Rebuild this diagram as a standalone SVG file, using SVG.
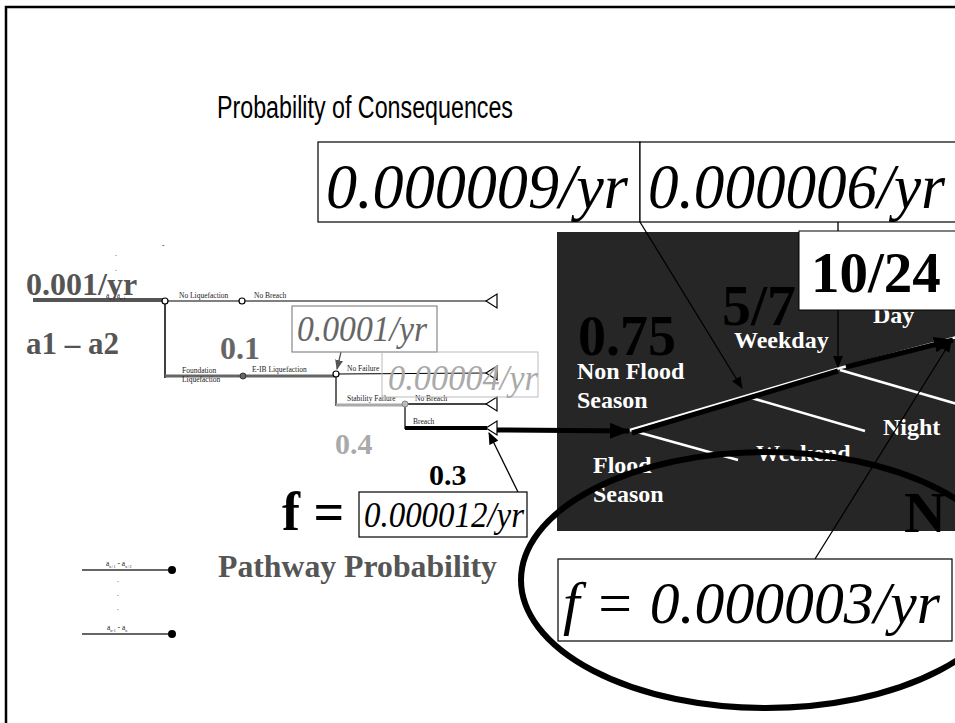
<svg xmlns="http://www.w3.org/2000/svg" width="955" height="723" viewBox="0 0 955 723">
<style>
.sf{font-family:"Liberation Serif","Times New Roman",serif}
.b{font-family:"Liberation Serif","Times New Roman",serif;font-weight:bold}
.it{font-family:"Liberation Serif","Times New Roman",serif;font-style:italic}
.tiny{font-family:"Liberation Serif","Times New Roman",serif;font-size:7.5px;fill:#222}
.wl{font-family:"Liberation Serif","Times New Roman",serif;font-weight:bold;font-size:24px;fill:#fff}
.box{fill:#fff;stroke:#000;stroke-width:1.2}
.node{fill:#fff;stroke:#000;stroke-width:1.2}
.tri{fill:#fff;stroke:#000;stroke-width:1.2}
.thin{stroke:#000;stroke-width:1.3;fill:none}
.wline{stroke:#fff;stroke-width:2.5;fill:none}
</style>
<defs>
<marker id="ah" markerUnits="userSpaceOnUse" markerWidth="12" markerHeight="10" refX="11" refY="5" orient="auto">
<path d="M0,0 L12,5 L0,10 Z" fill="#000"/>
</marker>
<marker id="ahg" markerUnits="userSpaceOnUse" markerWidth="10" markerHeight="8" refX="9" refY="4" orient="auto">
<path d="M0,0 L10,4 L0,8 Z" fill="#555"/>
</marker>
<marker id="ahb" markerUnits="userSpaceOnUse" markerWidth="20" markerHeight="16" refX="19" refY="8" orient="auto">
<path d="M0,0 L20,8 L0,16 Z" fill="#000"/>
</marker>
</defs>
<rect width="955" height="723" fill="#fff"/>
<path d="M6,723 L6,7 L955,7" fill="none" stroke="#000" stroke-width="2.5"/>

<g id="title">
<text x="217" y="118" font-family="Liberation Sans, Arial, sans-serif" font-size="31" textLength="296" lengthAdjust="spacingAndGlyphs">Probability of Consequences</text>
</g>

<g id="dark-panel">
<rect x="557" y="232" width="400" height="299" fill="#262626"/>
<line class="wline" x1="630" y1="430" x2="840" y2="368"/>
<line class="wline" x1="840" y1="368" x2="957" y2="337"/>
<line class="wline" x1="630" y1="430" x2="738" y2="460"/>
<line class="wline" x1="748" y1="397" x2="865" y2="431"/>
<line class="wline" x1="840" y1="370" x2="957" y2="404"/>
<text class="b" x="578" y="355" font-size="56" fill="#000">0.75</text>
<text class="b" x="722" y="325" font-size="58" fill="#000">5/7</text>
<text class="wl" x="577" y="379">Non Flood</text>
<text class="wl" x="577" y="408">Season</text>
<text class="wl" x="734" y="348" font-size="22">Weekday</text>
<text class="wl" x="873" y="323">Day</text>
<text class="wl" x="883" y="435">Night</text>
<text class="wl" x="756" y="461">Weekend</text>
<text class="wl" x="593" y="473">Flood</text>
<text class="wl" x="593" y="502">Season</text>
<text class="b" x="904" y="532" font-size="58" fill="#000">N</text>
</g>

<g id="connectors">
<line class="thin" x1="640" y1="222" x2="742" y2="388" marker-end="url(#ah)"/>
<line class="thin" x1="838" y1="222" x2="838" y2="367" marker-end="url(#ah)"/>
<line class="thin" x1="815" y1="559" x2="951" y2="341" marker-end="url(#ah)"/>
<line x1="497" y1="430" x2="629" y2="431" stroke="#000" stroke-width="5" marker-end="url(#ahb)"/>
<line x1="632" y1="433" x2="838" y2="371" stroke="#000" stroke-width="5"/>
<line x1="846" y1="367" x2="953" y2="340" stroke="#000" stroke-width="5" marker-end="url(#ahb)"/>
<line class="thin" x1="518" y1="492" x2="489" y2="433" marker-end="url(#ah)"/>
<line x1="341" y1="352" x2="337" y2="369" stroke="#555" stroke-width="1.3" marker-end="url(#ahg)"/>
</g>

<g id="box-10-24">
<rect x="799" y="231" width="160" height="79" fill="#fff" stroke="#000" stroke-width="1"/>
<text class="b" x="811" y="292" font-size="57">10/24</text>
</g>

<g id="box-000009">
<rect class="box" x="318" y="142" width="322" height="80"/>
<text class="it" x="326" y="208" font-size="64" textLength="302" lengthAdjust="spacingAndGlyphs">0.000009/yr</text>
</g>
<g id="box-000006">
<rect class="box" x="640" y="142" width="320" height="80"/>
<text class="it" x="648" y="208" font-size="64" textLength="297" lengthAdjust="spacingAndGlyphs">0.000006/yr</text>
</g>

<g id="event-tree">
<text x="115" y="256" class="tiny">.</text>
<text x="115" y="271" class="tiny">.</text>
<text x="162" y="248" class="tiny">-</text>
<text class="b" x="26" y="295" font-size="32" fill="#555">0.001/yr</text>
<line x1="33" y1="300" x2="165" y2="300" stroke="#555" stroke-width="4"/>
<text x="106" y="298" class="tiny" font-size="6" fill="#666">a<tspan font-size="4" dy="1.5">n-2</tspan><tspan dy="-1.5">/a</tspan><tspan font-size="4" dy="1.5">n-1</tspan></text>
<text class="b" x="26" y="354" font-size="31" fill="#555">a1 – a2</text>
<line x1="165" y1="301" x2="487" y2="301" stroke="#000" stroke-width="1.2"/>
<line x1="165" y1="301" x2="165" y2="378" stroke="#000" stroke-width="1.5"/>
<line x1="165" y1="376" x2="336" y2="376" stroke="#666" stroke-width="3"/>
<line x1="336" y1="374" x2="487" y2="373" stroke="#000" stroke-width="1.2"/>
<line x1="336" y1="374" x2="336" y2="406" stroke="#000" stroke-width="1.2"/>
<line x1="336" y1="405" x2="405" y2="405" stroke="#aaa" stroke-width="3"/>
<line x1="405" y1="404" x2="487" y2="404" stroke="#444" stroke-width="2"/>
<line x1="405" y1="404" x2="405" y2="429" stroke="#000" stroke-width="1.2"/>
<line x1="405" y1="428" x2="487" y2="428" stroke="#000" stroke-width="4"/>
<text x="179" y="298" class="tiny">No Liquefaction</text>
<text x="254" y="298" class="tiny">No Breach</text>
<text x="182" y="373" class="tiny">Foundation</text>
<text x="182" y="382" class="tiny">Liquefaction</text>
<text x="252" y="372" class="tiny">E-IB Liquefaction</text>
<text x="347" y="371" class="tiny">No Failure</text>
<text x="347" y="401" class="tiny">Stability Failure</text>
<text x="415" y="401" class="tiny">No Breach</text>
<text x="413" y="424" class="tiny">Breach</text>
<circle class="node" cx="165" cy="301" r="3"/>
<circle class="node" cx="242" cy="301" r="3"/>
<circle cx="243" cy="376" r="3" fill="#666" stroke="#333" stroke-width="1"/>
<circle class="node" cx="336" cy="374" r="3"/>
<circle cx="405" cy="404" r="3" fill="#bbb" stroke="#888" stroke-width="1"/>
<polygon class="tri" points="486,301 497,294 497,308"/>
<polygon class="tri" points="486,373 497,366 497,380"/>
<polygon class="tri" points="486,404 497,397 497,411"/>
<polygon class="tri" points="486,428 497,421 497,435"/>
<text class="b" x="220" y="359" font-size="32" fill="#666">0.1</text>
<text class="b" x="335" y="454" font-size="30" fill="#aaa">0.4</text>
<text class="b" x="429" y="485" font-size="30" fill="#000">0.3</text>
</g>

<g id="box-00001">
<rect x="292" y="306" width="145" height="46" fill="#fff" stroke="#888" stroke-width="1.2"/>
<text class="it" x="297" y="341" font-size="36" fill="#666" textLength="130" lengthAdjust="spacingAndGlyphs">0.0001/yr</text>
</g>
<g id="box-000004">
<rect x="382" y="352" width="156" height="45" fill="none" stroke="#bbb" stroke-width="1"/>
<text class="it" x="388" y="390" font-size="36" fill="#aaa" textLength="150" lengthAdjust="spacingAndGlyphs">0.00004/yr</text>
</g>

<g id="f-equals">
<text class="b" x="282" y="530" font-size="54">f =</text>
<rect class="box" x="359" y="492" width="168" height="45"/>
<text class="it" x="364" y="527" font-size="35" textLength="160" lengthAdjust="spacingAndGlyphs">0.000012/yr</text>
</g>

<g id="pathway">
<text class="b" x="218" y="577" font-size="31" fill="#555" textLength="279" lengthAdjust="spacingAndGlyphs">Pathway Probability</text>
</g>

<g id="legend">
<line x1="82" y1="570" x2="172" y2="570" stroke="#666" stroke-width="2"/>
<circle cx="172" cy="570" r="4" fill="#000"/>
<text x="106" y="566" class="tiny" font-size="6" fill="#666">a<tspan font-size="4" dy="1.5">n+1</tspan><tspan dy="-1.5"> - a</tspan><tspan font-size="4" dy="1.5">n+2</tspan></text>
<text x="117" y="582" class="tiny">.</text>
<text x="117" y="596" class="tiny">.</text>
<text x="117" y="610" class="tiny">.</text>
<line x1="82" y1="634" x2="172" y2="634" stroke="#666" stroke-width="2"/>
<circle cx="172" cy="634" r="4" fill="#000"/>
<text x="107" y="630" class="tiny" font-size="6" fill="#666">a<tspan font-size="4" dy="1.5">n-1</tspan><tspan dy="-1.5"> - a</tspan><tspan font-size="4" dy="1.5">n</tspan></text>
</g>

<g id="ellipse-highlight">
<ellipse cx="766" cy="580" rx="245" ry="128" fill="none" stroke="#000" stroke-width="6"/>
</g>

<g id="box-final">
<rect x="558" y="559" width="394" height="82" fill="#fff" stroke="#000" stroke-width="1.2"/>
<text class="it" x="563" y="623" font-size="60" textLength="377" lengthAdjust="spacingAndGlyphs">f = 0.000003/yr</text>
</g>
</svg>
